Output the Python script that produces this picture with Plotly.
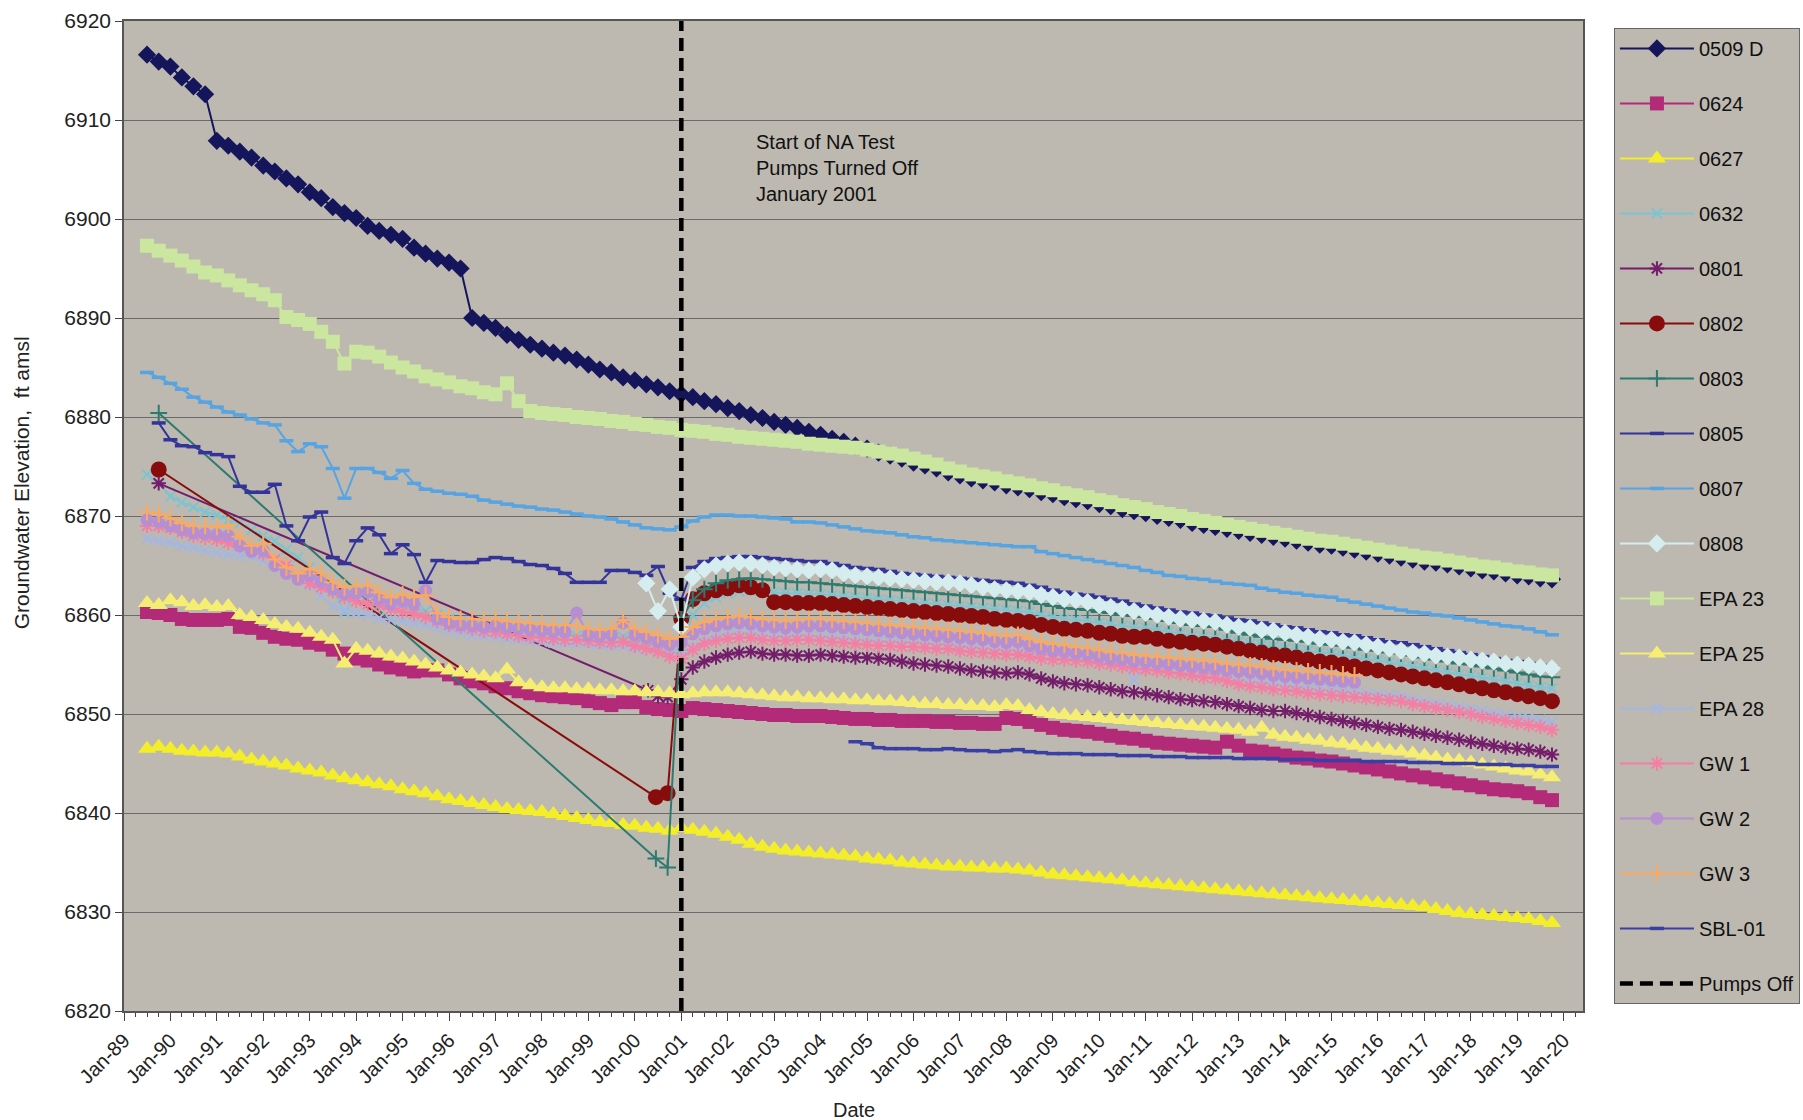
import pandas as pd
import plotly.graph_objects as go

FONT = "Liberation Sans, Arial, sans-serif"
PLOT_BG = "#bdb9b0"
GRID = "#6a6a6a"

Y_MIN, Y_MAX = 6820, 6920
X_RANGE = ["1989-01-01", "2020-06-01"]
PUMPS_OFF = "2001-01-01"

# ---------------------------------------------------------------- well data
# Quarterly water-level readings (ft amsl); each list starts at its *_START date.
W0509D_START = "1989-07-01"
W0509D = [6916.6, 6915.9,
          6915.4, 6914.3, 6913.4, 6912.6, 6907.9, 6907.4, 6906.8, 6906.2,
          6905.4, 6904.8, 6904.1, 6903.5, 6902.7, 6902.1, 6901.2, 6900.6,
          6900.1, 6899.3, 6898.8, 6898.4, 6898.0, 6897.1, 6896.5, 6896.0,
          6895.6, 6895.0, 6890.0, 6889.5, 6889.0, 6888.3, 6887.8, 6887.3,
          6886.9, 6886.5, 6886.2, 6885.8, 6885.3, 6884.8, 6884.5, 6884.0,
          6883.7, 6883.3, 6883.0, 6882.6, 6882.3, 6882.0, 6881.6, 6881.3,
          6880.9, 6880.6, 6880.2, 6879.9, 6879.5, 6879.2, 6878.9, 6878.5,
          6878.2, 6877.8, 6877.5, 6877.1, 6876.8, 6876.4, 6876.1, 6875.8,
          6875.4, 6875.1, 6874.8, 6874.4, 6874.1, 6873.8, 6873.6, 6873.4,
          6873.1, 6872.9, 6872.7, 6872.4, 6872.2, 6871.9, 6871.7, 6871.5,
          6871.2, 6871.0, 6870.7, 6870.5, 6870.3, 6870.0, 6869.8, 6869.6,
          6869.3, 6869.1, 6868.9, 6868.7, 6868.5, 6868.3, 6868.1, 6867.9,
          6867.7, 6867.5, 6867.3, 6867.1, 6867.0, 6866.8, 6866.6, 6866.4,
          6866.2, 6866.0, 6865.8, 6865.6, 6865.4, 6865.3, 6865.1, 6864.9,
          6864.7, 6864.5, 6864.4, 6864.2, 6864.0, 6863.9, 6863.7, 6863.6]

W0624_START = "1989-07-01"
W0624 = [6860.3, 6860.2,
         6860.0, 6859.6, 6859.5, 6859.5, 6859.5, 6859.6, 6858.8, 6858.7,
         6858.2, 6857.8, 6857.6, 6857.5, 6857.2, 6857.0, 6856.5, 6856.1,
         6855.6, 6855.4, 6855.0, 6854.7, 6854.5, 6854.3, 6854.4, 6854.4,
         6854.0, 6853.6, 6853.3, 6853.1, 6852.8, 6852.6, 6852.3, 6852.1,
         6851.9, 6851.8, 6851.7, 6851.6, 6851.3, 6851.1, 6850.9, 6851.2,
         6851.2, 6850.7, 6850.5, 6850.4, 6850.3, 6850.6, 6850.5, 6850.4,
         6850.3, 6850.2, 6850.1, 6850.0, 6849.9, 6849.9, 6849.8, 6849.8,
         6849.8, 6849.7, 6849.6, 6849.5, 6849.5, 6849.4, 6849.4, 6849.3,
         6849.3, 6849.3, 6849.2, 6849.2, 6849.1, 6849.1, 6849.0, 6849.0,
         6849.6, 6849.5, 6849.2, 6848.9, 6848.6, 6848.4, 6848.3, 6848.2,
         6848.0, 6847.8, 6847.6, 6847.5, 6847.3, 6847.1, 6847.0, 6846.9,
         6846.8, 6846.7, 6846.6, 6847.2, 6846.8, 6846.3, 6846.2, 6846.0,
         6845.8, 6845.6, 6845.5, 6845.3, 6845.2, 6845.0, 6844.8, 6844.6,
         6844.4, 6844.2, 6844.0, 6843.8, 6843.6, 6843.4, 6843.2, 6843.0,
         6842.8, 6842.6, 6842.4, 6842.3, 6842.2, 6842.0, 6841.6, 6841.3]

W0627_START = "1989-07-01"
W0627 = [6846.5, 6846.7,
         6846.5, 6846.3, 6846.2, 6846.1, 6846.1, 6846.0, 6845.7, 6845.4,
         6845.2, 6845.0, 6844.8, 6844.5, 6844.3, 6844.1, 6843.8, 6843.5,
         6843.3, 6843.1, 6842.9, 6842.7, 6842.4, 6842.2, 6842.0, 6841.7,
         6841.4, 6841.2, 6841.0, 6840.8, 6840.6, 6840.4, 6840.3, 6840.2,
         6840.1, 6839.9, 6839.7, 6839.5, 6839.3, 6839.1, 6839.0, 6838.8,
         6838.7, 6838.5, 6838.4, 6838.2, 6838.5, 6838.3, 6838.1, 6837.9,
         6837.6, 6837.3, 6836.9, 6836.6, 6836.4, 6836.2, 6836.1, 6836.0,
         6835.9, 6835.8, 6835.7, 6835.6, 6835.4, 6835.3, 6835.2, 6835.0,
         6834.9, 6834.8, 6834.7, 6834.6, 6834.6, 6834.5, 6834.5, 6834.4,
         6834.4, 6834.3, 6834.2, 6834.0, 6833.8, 6833.7, 6833.6, 6833.5,
         6833.4, 6833.3, 6833.2, 6833.0, 6832.9, 6832.8, 6832.7, 6832.6,
         6832.5, 6832.4, 6832.3, 6832.2, 6832.1, 6832.0, 6831.9, 6831.8,
         6831.7, 6831.6, 6831.5, 6831.4, 6831.3, 6831.2, 6831.1, 6831.0,
         6830.9, 6830.8, 6830.7, 6830.6, 6830.5, 6830.3, 6830.1, 6829.9,
         6829.8, 6829.7, 6829.6, 6829.5, 6829.4, 6829.3, 6829.1, 6828.9]

W0632_START = "1989-07-01"
W0632 = [6874.2, 6873.3,
         6872.0, 6871.4, 6870.9, 6870.4, 6870.1, 6869.6, 6869.3, 6868.6,
         6868.0, 6867.5, 6866.6, 6865.8, 6864.8, 6863.6, 6862.6, 6860.3,
         6862.4, 6862.3, 6861.6, 6861.2, 6861.0, 6860.7, 6860.4, 6860.0,
         6859.6, 6859.3, 6859.1, 6858.9, 6858.8, 6858.6, 6858.5, 6858.3,
         6858.2, 6858.1, 6858.0, 6857.9, 6857.8, 6857.7, 6857.7, 6857.8,
         6857.5, 6857.2, 6856.9, 6856.5, 6856.6, 6860.0, 6861.2, 6861.8,
         6862.2, 6862.4, 6862.5, 6862.4, 6862.3, 6862.2, 6862.2, 6862.1,
         6862.1, 6862.0, 6861.9, 6861.8, 6861.7, 6861.6, 6861.5, 6861.4,
         6861.3, 6861.2, 6861.1, 6861.0, 6860.9, 6860.8, 6860.7, 6860.6,
         6860.5, 6860.4, 6860.3, 6860.0, 6859.8, 6859.6, 6859.5, 6859.4,
         6859.2, 6859.1, 6858.9, 6858.8, 6858.7, 6858.5, 6858.3, 6858.1,
         6857.9, 6857.8, 6857.7, 6857.5, 6857.3, 6857.1, 6857.0, 6856.8,
         6856.6, 6856.5, 6856.4, 6856.2, 6856.1, 6855.9, 6855.7, 6855.5,
         6855.4, 6855.2, 6855.0, 6854.8, 6854.6, 6854.4, 6854.2, 6854.0,
         6853.9, 6853.7, 6853.5, 6853.3, 6853.1, 6852.9, 6852.7, 6852.6]

# 0801, 0802 and 0803 were read only sparsely before the pumps were shut off
W0801_EARLY_DATES = ["1989-10-01", "2000-04-15", "2000-07-01", "2000-09-15"]
W0801_EARLY = [6873.3, 6852.4, 6851.8, 6851.7]
W0801_START = "2001-01-01"
W0801 = [6853.5, 6854.7, 6855.3, 6855.7, 6856.0, 6856.2, 6856.3, 6856.1,
         6856.0, 6856.0, 6855.9, 6855.9, 6856.0, 6855.9, 6855.8, 6855.7,
         6855.7, 6855.6, 6855.5, 6855.3, 6855.1, 6855.0, 6854.9, 6854.8,
         6854.6, 6854.4, 6854.3, 6854.2, 6854.1, 6854.2, 6854.0, 6853.6,
         6853.3, 6853.1, 6853.0, 6852.9, 6852.7, 6852.5, 6852.3, 6852.2,
         6852.1, 6851.9, 6851.7, 6851.5, 6851.4, 6851.3, 6851.2, 6851.0,
         6850.8, 6850.6, 6850.4, 6850.3, 6850.3, 6850.1, 6849.9, 6849.7,
         6849.5, 6849.3, 6849.1, 6848.9, 6848.7, 6848.5, 6848.4, 6848.2,
         6848.0, 6847.8, 6847.6, 6847.4, 6847.2, 6847.0, 6846.8, 6846.6,
         6846.5, 6846.4, 6846.2, 6845.9]

W0802_EARLY_DATES = ["1989-10-01", "2000-06-15", "2000-09-15"]
W0802_EARLY = [6874.7, 6841.6, 6842.0]
W0802_START = "2001-01-01"
W0802 = [6859.6, 6861.6, 6862.2, 6862.5, 6862.7, 6863.0, 6862.8, 6862.5,
         6861.3, 6861.3, 6861.2, 6861.2, 6861.2, 6861.1, 6861.0, 6860.9,
         6860.8, 6860.7, 6860.6, 6860.5, 6860.4, 6860.3, 6860.2, 6860.1,
         6860.0, 6859.9, 6859.8, 6859.6, 6859.5, 6859.4, 6859.3, 6859.0,
         6858.8, 6858.6, 6858.5, 6858.4, 6858.2, 6858.1, 6857.9, 6857.8,
         6857.8, 6857.6, 6857.4, 6857.3, 6857.2, 6857.1, 6857.0, 6856.8,
         6856.6, 6856.4, 6856.2, 6856.0, 6855.9, 6855.7, 6855.5, 6855.3,
         6855.2, 6855.0, 6854.8, 6854.6, 6854.4, 6854.2, 6854.0, 6853.8,
         6853.6, 6853.4, 6853.2, 6853.0, 6852.8, 6852.6, 6852.4, 6852.2,
         6852.0, 6851.8, 6851.6, 6851.3]

W0803_EARLY_DATES = ["1989-10-01", "2000-06-15", "2000-09-15"]
W0803_EARLY = [6880.4, 6835.4, 6834.5]
W0803_START = "2001-01-01"
W0803 = [6859.8, 6861.5, 6862.6, 6863.2, 6863.5, 6863.6, 6863.7, 6863.6,
         6863.5, 6863.4, 6863.3, 6863.3, 6863.2, 6863.1, 6863.0, 6862.9,
         6862.8, 6862.7, 6862.6, 6862.5, 6862.4, 6862.3, 6862.2, 6862.1,
         6862.0, 6861.9, 6861.8, 6861.7, 6861.6, 6861.5, 6861.4, 6861.1,
         6860.9, 6860.7, 6860.6, 6860.5, 6860.3, 6860.2, 6860.0, 6859.9,
         6859.8, 6859.6, 6859.4, 6859.2, 6859.0, 6858.9, 6858.8, 6858.5,
         6858.2, 6858.0, 6857.8, 6857.6, 6857.5, 6857.4, 6857.3, 6857.1,
         6857.0, 6856.9, 6856.7, 6856.5, 6856.4, 6856.2, 6856.1, 6855.9,
         6855.7, 6855.5, 6855.3, 6855.1, 6855.0, 6854.8, 6854.6, 6854.4,
         6854.2, 6854.0, 6853.8, 6853.7]

W0805_START = "1989-10-01"
W0805 = [6879.4,
         6877.7, 6877.1, 6877.0, 6876.4, 6876.2, 6876.0, 6873.0, 6872.4,
         6872.4, 6873.2, 6869.0, 6867.5, 6869.9, 6870.4, 6865.8, 6865.2,
         6867.5, 6868.8, 6868.1, 6866.2, 6867.1, 6866.1, 6863.3, 6865.5,
         6865.4, 6865.3, 6865.3, 6865.6, 6865.8, 6865.7, 6865.4, 6865.1,
         6865.0, 6864.7, 6864.2, 6863.3, 6863.3, 6863.3, 6864.5, 6864.5,
         6864.3, 6864.0, 6864.9, 6862.2, 6861.6, 6864.8, 6865.4, 6865.7,
         6865.8, 6865.9, 6865.9, 6865.8, 6865.7, 6865.6, 6865.5, 6865.4,
         6865.4, 6865.2, 6865.0, 6864.8, 6864.7, 6864.6, 6864.4, 6864.2,
         6864.1, 6864.0, 6863.9, 6863.8, 6863.7, 6863.6, 6863.5, 6863.4,
         6863.3, 6863.2, 6863.0, 6862.8, 6862.5, 6862.3, 6862.1, 6862.0,
         6861.8, 6861.6, 6861.4, 6861.1, 6860.9, 6860.7, 6860.5, 6860.3,
         6860.2, 6860.0, 6859.9, 6859.7, 6859.5, 6859.4, 6859.2, 6859.0,
         6858.8, 6858.7, 6858.5, 6858.3, 6858.2, 6858.0, 6857.9, 6857.7,
         6857.5, 6857.3, 6857.2, 6857.0, 6856.8, 6856.6, 6856.4, 6856.2,
         6856.0, 6855.8, 6855.6, 6855.4, 6855.3, 6855.1, 6854.9, 6854.7]

W0807_START = "1989-07-01"
W0807 = [6884.5, 6884.0,
         6883.4, 6882.8, 6882.0, 6881.5, 6881.0, 6880.5, 6880.2, 6879.8,
         6879.4, 6879.2, 6877.6, 6876.5, 6877.3, 6877.0, 6874.8, 6871.8,
         6874.8, 6874.8, 6874.4, 6873.8, 6874.6, 6873.3, 6872.7, 6872.5,
         6872.3, 6872.2, 6872.0, 6871.6, 6871.4, 6871.2, 6871.0, 6870.9,
         6870.7, 6870.6, 6870.4, 6870.2, 6870.0, 6869.9, 6869.7, 6869.4,
         6869.1, 6868.8, 6868.7, 6868.6, 6868.9, 6869.5, 6869.9, 6870.1,
         6870.1, 6870.0, 6870.0, 6869.9, 6869.8, 6869.7, 6869.4, 6869.4,
         6869.3, 6869.1, 6868.9, 6868.7, 6868.5, 6868.4, 6868.3, 6868.1,
         6867.9, 6867.8, 6867.6, 6867.5, 6867.4, 6867.3, 6867.2, 6867.1,
         6867.0, 6866.9, 6866.9, 6866.4, 6866.2, 6866.0, 6865.8, 6865.6,
         6865.4, 6865.2, 6865.0, 6864.8, 6864.5, 6864.3, 6864.0, 6863.9,
         6863.7, 6863.6, 6863.4, 6863.2, 6863.1, 6863.0, 6862.7, 6862.5,
         6862.3, 6862.2, 6862.0, 6861.9, 6861.8, 6861.5, 6861.3, 6861.1,
         6860.9, 6860.7, 6860.5, 6860.3, 6860.2, 6860.0, 6859.9, 6859.7,
         6859.5, 6859.3, 6859.1, 6858.9, 6858.8, 6858.6, 6858.3, 6858.0]

W0808_START = "2000-04-01"
W0808 = [6863.2, 6860.4, 6862.6,
         6858.8, 6863.8, 6864.6, 6865.0, 6865.2, 6865.3, 6865.2, 6865.0,
         6864.8, 6864.7, 6864.6, 6864.5, 6864.6, 6864.5, 6864.2, 6864.0,
         6863.9, 6863.8, 6863.7, 6863.6, 6863.5, 6863.4, 6863.3, 6863.3,
         6863.2, 6863.0, 6862.8, 6862.6, 6862.5, 6862.4, 6862.3, 6862.0,
         6861.8, 6861.6, 6861.5, 6861.3, 6861.0, 6860.8, 6860.6, 6860.4,
         6860.2, 6860.0, 6859.8, 6859.6, 6859.5, 6859.4, 6859.3, 6859.0,
         6858.8, 6858.7, 6858.5, 6858.4, 6858.2, 6858.0, 6857.8, 6857.6,
         6857.5, 6857.3, 6857.2, 6857.0, 6856.8, 6856.6, 6856.4, 6856.2,
         6856.1, 6855.9, 6855.8, 6855.7, 6855.5, 6855.4, 6855.3, 6855.1,
         6855.0, 6854.9, 6854.7, 6854.6]

EPA23_START = "1989-07-01"
EPA23 = [6897.3, 6896.8,
         6896.3, 6895.8, 6895.2, 6894.6, 6894.3, 6893.8, 6893.3, 6892.8,
         6892.4, 6891.8, 6890.1, 6889.8, 6889.4, 6888.6, 6887.6, 6885.4,
         6886.6, 6886.5, 6886.1, 6885.5, 6885.0, 6884.6, 6884.1, 6883.8,
         6883.5, 6883.1, 6882.9, 6882.5, 6882.3, 6883.4, 6881.6, 6880.6,
         6880.4, 6880.3, 6880.2, 6880.0, 6879.9, 6879.8, 6879.6, 6879.5,
         6879.3, 6879.2, 6879.0, 6878.9, 6878.7, 6878.6, 6878.5, 6878.3,
         6878.2, 6878.0, 6877.9, 6877.8, 6877.7, 6877.6, 6877.5, 6877.3,
         6877.2, 6877.1, 6877.0, 6876.9, 6876.7, 6876.5, 6876.3, 6876.1,
         6875.8, 6875.5, 6875.2, 6874.8, 6874.5, 6874.2, 6874.0, 6873.8,
         6873.5, 6873.3, 6873.1, 6872.8, 6872.6, 6872.3, 6872.1, 6871.9,
         6871.6, 6871.4, 6871.1, 6870.9, 6870.7, 6870.4, 6870.2, 6870.0,
         6869.7, 6869.5, 6869.3, 6869.1, 6868.9, 6868.7, 6868.5, 6868.3,
         6868.1, 6867.9, 6867.7, 6867.5, 6867.4, 6867.2, 6867.0, 6866.8,
         6866.6, 6866.4, 6866.2, 6866.0, 6865.8, 6865.7, 6865.5, 6865.3,
         6865.1, 6864.9, 6864.8, 6864.6, 6864.4, 6864.3, 6864.1, 6864.0]

EPA25_START = "1989-07-01"
EPA25 = [6861.2, 6861.0,
         6861.5, 6861.3, 6860.9, 6861.0, 6860.8, 6860.9, 6860.0, 6859.8,
         6859.5, 6859.1, 6858.8, 6858.6, 6858.2, 6857.8, 6857.5, 6855.1,
         6856.6, 6856.4, 6856.1, 6855.8, 6855.6, 6855.3, 6855.0, 6854.7,
         6854.4, 6854.2, 6854.0, 6853.8, 6853.6, 6854.5, 6853.2, 6852.9,
         6852.7, 6852.6, 6852.6, 6852.5, 6852.5, 6852.4, 6852.4, 6852.3,
         6852.3, 6852.2, 6852.2, 6852.1, 6852.0, 6852.1, 6852.2, 6852.2,
         6852.2, 6852.1, 6852.0, 6851.9, 6851.8, 6851.7, 6851.7, 6851.6,
         6851.6, 6851.5, 6851.5, 6851.4, 6851.4, 6851.3, 6851.3, 6851.2,
         6851.1, 6851.0, 6851.0, 6850.9, 6850.9, 6850.8, 6850.8, 6850.7,
         6850.9, 6850.8, 6850.4, 6850.2, 6850.0, 6849.9, 6849.8, 6849.7,
         6849.6, 6849.5, 6849.4, 6849.3, 6849.2, 6849.1, 6849.0, 6848.9,
         6848.8, 6848.7, 6848.6, 6848.5, 6848.4, 6848.2, 6848.6, 6847.9,
         6847.7, 6847.6, 6847.4, 6847.3, 6847.1, 6847.0, 6846.8, 6846.6,
         6846.5, 6846.3, 6846.2, 6846.0, 6845.8, 6845.6, 6845.4, 6845.3,
         6845.1, 6844.9, 6844.7, 6844.5, 6844.3, 6844.2, 6843.9, 6843.6]

EPA28_START = "1989-07-01"
EPA28 = [6867.7, 6867.5,
         6867.3, 6867.0, 6866.8, 6866.5, 6866.3, 6866.1, 6866.0, 6865.9,
         6865.5, 6864.9, 6864.3, 6863.7, 6863.0, 6862.0, 6860.9, 6860.5,
         6860.2, 6860.0, 6859.7, 6859.5, 6859.4, 6859.2, 6859.0, 6858.7,
         6858.4, 6858.2, 6858.0, 6857.9, 6857.8, 6857.6, 6857.5, 6857.4,
         6857.3, 6857.2, 6857.2, 6857.1, 6857.1, 6857.0, 6856.9, 6856.9,
         6856.7, 6856.5, 6856.3, 6856.1, 6856.0, 6856.8, 6857.4, 6857.8,
         6858.0, 6858.1, 6858.1, 6857.9, 6857.8, 6857.8, 6857.9, 6857.9,
         6857.8, 6857.7, 6857.6, 6857.5, 6857.4, 6857.3, 6857.3, 6857.2,
         6857.2, 6857.1, 6857.0, 6857.0, 6856.8, 6856.7, 6856.6, 6856.5,
         6856.4, 6856.4, 6856.2, 6856.0, 6855.9, 6855.9, 6855.8, 6855.7,
         6855.5, 6855.4, 6855.2, 6853.4, 6854.9, 6854.8, 6854.6, 6854.5,
         6854.3, 6854.1, 6854.0, 6853.8, 6853.5, 6853.3, 6853.2, 6853.0,
         6852.9, 6852.8, 6852.6, 6852.5, 6852.4, 6852.3, 6852.2, 6852.1,
         6852.0, 6851.9, 6851.8, 6851.5, 6851.3, 6851.1, 6850.9, 6850.7,
         6850.5, 6850.3, 6850.1, 6849.9, 6849.7, 6849.6, 6849.4, 6849.2]

GW1_START = "1989-07-01"
GW1 = [6869.0, 6869.0,
       6868.8, 6868.4, 6868.0, 6867.8, 6867.6, 6867.3, 6867.0, 6866.6,
       6866.2, 6865.6, 6865.0, 6864.0, 6863.2, 6862.8, 6862.4, 6861.8,
       6861.4, 6861.1, 6861.0, 6860.6, 6860.3, 6860.1, 6859.8, 6859.4,
       6859.0, 6858.8, 6858.6, 6858.4, 6858.3, 6858.1, 6857.9, 6857.8,
       6857.7, 6857.6, 6857.5, 6857.5, 6857.4, 6857.3, 6857.2, 6857.3,
       6856.9, 6856.6, 6856.3, 6855.8, 6855.6, 6856.5, 6857.1, 6857.4,
       6857.6, 6857.7, 6857.7, 6857.5, 6857.4, 6857.4, 6857.5, 6857.5,
       6857.4, 6857.3, 6857.2, 6857.1, 6857.0, 6856.9, 6856.9, 6856.8,
       6856.8, 6856.7, 6856.6, 6856.6, 6856.4, 6856.3, 6856.2, 6856.1,
       6856.0, 6856.0, 6855.8, 6855.6, 6855.5, 6855.5, 6855.4, 6855.3,
       6855.1, 6855.0, 6854.8, 6854.6, 6854.5, 6854.4, 6854.2, 6854.1,
       6853.9, 6853.7, 6853.6, 6853.3, 6853.0, 6852.8, 6852.7, 6852.5,
       6852.4, 6852.3, 6852.1, 6852.0, 6851.9, 6851.8, 6851.7, 6851.6,
       6851.5, 6851.4, 6851.3, 6851.0, 6850.8, 6850.6, 6850.4, 6850.2,
       6850.0, 6849.7, 6849.5, 6849.3, 6849.1, 6848.9, 6848.7, 6848.4]

GW2_START = "1989-07-01"
GW2 = [6869.6, 6869.4,
       6869.0, 6868.6, 6868.3, 6868.2, 6868.1, 6868.0, 6867.0, 6866.4,
       6866.5, 6865.0, 6864.2, 6863.6, 6864.0, 6863.4, 6862.6, 6862.1,
       6862.2, 6862.3, 6861.6, 6861.1, 6861.4, 6861.1, 6862.5, 6859.6,
       6859.2, 6859.0, 6858.9, 6858.8, 6858.9, 6858.7, 6858.6, 6858.5,
       6858.4, 6858.3, 6858.3, 6860.2, 6858.0, 6857.9, 6858.0, 6859.2,
       6858.0, 6857.7, 6857.3, 6857.0, 6857.2, 6858.1, 6858.6, 6858.9,
       6859.1, 6859.2, 6859.1, 6858.9, 6858.8, 6858.7, 6858.8, 6858.9,
       6858.9, 6858.8, 6858.7, 6858.6, 6858.5, 6858.4, 6858.3, 6858.2,
       6858.1, 6858.0, 6857.9, 6857.8, 6857.7, 6857.6, 6857.5, 6857.3,
       6857.2, 6857.3, 6856.9, 6856.6, 6856.4, 6856.3, 6856.1, 6856.0,
       6855.8, 6855.6, 6855.5, 6855.3, 6855.2, 6855.1, 6855.0, 6854.9,
       6854.8, 6854.7, 6854.6, 6854.4, 6854.3, 6854.2, 6854.1, 6853.9,
       6853.8, 6853.7, 6853.6, 6853.5, 6853.4, 6853.3, 6853.2]

GW3_START = "1989-07-01"
GW3 = [6870.4, 6870.2,
       6869.8, 6869.3, 6869.0, 6869.0, 6868.9, 6869.1, 6867.9, 6867.0,
       6867.2, 6865.6, 6864.8, 6864.2, 6864.7, 6864.2, 6863.3, 6862.8,
       6862.9, 6863.0, 6862.3, 6861.8, 6862.1, 6861.8, 6862.0, 6860.2,
       6859.8, 6859.6, 6859.6, 6859.5, 6859.6, 6859.4, 6859.3, 6859.2,
       6859.1, 6859.0, 6859.0, 6858.9, 6858.6, 6858.5, 6858.6, 6859.5,
       6858.6, 6858.3, 6858.0, 6857.6, 6857.8, 6858.8, 6859.3, 6859.6,
       6859.8, 6859.9, 6859.8, 6859.6, 6859.5, 6859.4, 6859.5, 6859.6,
       6859.6, 6859.5, 6859.4, 6859.3, 6859.2, 6859.1, 6859.0, 6858.9,
       6858.8, 6858.7, 6858.6, 6858.5, 6858.4, 6858.3, 6858.2, 6858.0,
       6857.9, 6858.0, 6857.6, 6857.3, 6857.1, 6857.0, 6856.8, 6856.7,
       6856.5, 6856.3, 6856.2, 6856.0, 6855.9, 6855.8, 6855.7, 6855.6,
       6855.5, 6855.4, 6855.3, 6855.1, 6855.0, 6854.9, 6854.8, 6854.6,
       6854.5, 6854.4, 6854.3, 6854.2, 6854.1, 6854.0, 6853.9]

SBL01_START = "2004-10-01"
SBL01 = [6847.2,
         6847.0, 6846.6, 6846.5, 6846.5, 6846.5, 6846.4, 6846.4, 6846.5,
         6846.4, 6846.3, 6846.3, 6846.2, 6846.3, 6846.4, 6846.2, 6846.1,
         6846.0, 6846.0, 6846.0, 6845.9, 6845.9, 6845.9, 6845.8, 6845.8,
         6845.8, 6845.7, 6845.7, 6845.7, 6845.6, 6845.6, 6845.6, 6845.6,
         6845.5, 6845.5, 6845.5, 6845.5, 6845.4, 6845.4, 6845.4, 6845.3,
         6845.3, 6845.3, 6845.3, 6845.2, 6845.2, 6845.2, 6845.2, 6845.1,
         6845.1, 6845.1, 6845.0, 6845.0, 6845.0, 6844.9, 6844.9, 6844.9,
         6844.8, 6844.8, 6844.7, 6844.7]


def quarterly(start, values):
    """Quarter-start sample dates for a list of readings beginning at `start`."""
    return list(pd.date_range(start=start, periods=len(values), freq="QS"))


def with_early(early_dates, early_vals, start, values):
    return (list(pd.to_datetime(early_dates)) + quarterly(start, values),
            list(early_vals) + list(values))


# name, (dates, values), colour, marker symbol, marker size, stroke width of line-type markers
SERIES = [
    ("0509 D", (quarterly(W0509D_START, W0509D), W0509D), "#15155c", "diamond", 14, 0),
    ("0624", (quarterly(W0624_START, W0624), W0624), "#b32a78", "square", 14, 0),
    ("0627", (quarterly(W0627_START, W0627), W0627), "#f4ee2a", "triangle-up", 16, 0),
    ("0632", (quarterly(W0632_START, W0632), W0632), "#7cc4d0", "x-thin", 10, 2),
    ("0801", with_early(W0801_EARLY_DATES, W0801_EARLY, W0801_START, W0801), "#741d6b", "asterisk", 12, 2),
    ("0802", with_early(W0802_EARLY_DATES, W0802_EARLY, W0802_START, W0802), "#890c0c", "circle", 16, 0),
    ("0803", with_early(W0803_EARLY_DATES, W0803_EARLY, W0803_START, W0803), "#2d7b70", "cross-thin", 12, 2),
    ("0805", (quarterly(W0805_START, W0805), W0805), "#33339a", "line-ew", 10, 3.5),
    ("0807", (quarterly(W0807_START, W0807), W0807), "#58a4e2", "line-ew", 10, 3.5),
    ("0808", (quarterly(W0808_START, W0808), W0808), "#d6edef", "diamond", 14, 0),
    ("EPA 23", (quarterly(EPA23_START, EPA23), EPA23), "#cbe69f", "square", 14, 0),
    ("EPA 25", (quarterly(EPA25_START, EPA25), EPA25), "#f6ee72", "triangle-up", 16, 0),
    ("EPA 28", (quarterly(EPA28_START, EPA28), EPA28), "#a2b7e3", "x-thin", 10, 2),
    ("GW 1", (quarterly(GW1_START, GW1), GW1), "#f57fa2", "asterisk", 12, 2),
    ("GW 2", (quarterly(GW2_START, GW2), GW2), "#b68fd2", "circle", 13, 0),
    ("GW 3", (quarterly(GW3_START, GW3), GW3), "#f9aa60", "cross-thin", 12, 2),
    ("SBL-01", (quarterly(SBL01_START, SBL01), SBL01), "#3a3fa6", "line-ew", 10, 3.5),
]

fig = go.Figure()

for name, (dates, vals), color, symbol, size, stroke in SERIES:
    if stroke:
        marker = dict(symbol=symbol, size=size, color=color,
                      line=dict(color=color, width=stroke))
    else:
        marker = dict(symbol=symbol, size=size, color=color, line=dict(width=0))
    fig.add_trace(go.Scatter(
        x=dates, y=vals, name=name, legendgroup=name,
        mode="lines+markers", line=dict(color=color, width=2),
        marker=marker,
    ))

# vertical marker for the pump shut-off date
fig.add_trace(go.Scatter(
    x=[PUMPS_OFF, PUMPS_OFF], y=[Y_MIN, Y_MAX], name="Pumps Off",
    legendgroup="Pumps Off", mode="lines",
    line=dict(color="black", width=4.5, dash="13px,7px"),
))

fig.add_annotation(
    x=0.4318, y=0.8905, xref="paper", yref="paper",
    xanchor="left", yanchor="top", align="left", showarrow=False,
    text="Start of NA Test<br>Pumps Turned Off<br>January 2001",
    font=dict(family=FONT, size=20, color="#111"),
)
fig.add_annotation(
    x=0.5, y=0, xref="paper", yref="paper", yshift=-99,
    xanchor="center", yanchor="middle", showarrow=False,
    text="Date", font=dict(family=FONT, size=20, color="#222"),
)
fig.add_annotation(
    x=0, y=0.533, xref="paper", yref="paper", xshift=-103,
    xanchor="center", yanchor="middle", showarrow=False, textangle=-90,
    text="Groundwater Elevation,  ft amsl", font=dict(family=FONT, size=21, color="#222"),
)

fig.update_layout(
    width=1803, height=1120,
    margin=dict(l=124, r=220, t=21, b=109, autoexpand=False),
    paper_bgcolor="white", plot_bgcolor=PLOT_BG,
    font=dict(family=FONT, size=18, color="#222"),
    hovermode=False,
    showlegend=True,
    legend=dict(
        x=1.0212, y=0.993, xanchor="left", yanchor="top",
        bgcolor=PLOT_BG, bordercolor="#666", borderwidth=1,
        font=dict(family=FONT, size=20, color="#111"),
        itemwidth=74, tracegroupgap=26, traceorder="grouped",
    ),
    xaxis=dict(
        type="date", range=X_RANGE,
        tick0="1989-01-01", dtick="M12", tickformat="%b-%y", tickangle=-45,
        ticks="outside", ticklen=8, tickcolor="#444", tickwidth=1,
        minor=dict(dtick="M3", tick0="1989-01-01", ticks="outside", ticklen=4,
                   tickcolor="#444", showgrid=False),
        showgrid=False, zeroline=False,
        showline=True, linecolor="#555", linewidth=1.5, mirror=True,
        tickfont=dict(family=FONT, size=20, color="#222"),
    ),
    yaxis=dict(
        range=[Y_MIN, Y_MAX], dtick=10, tick0=Y_MIN,
        ticks="outside", ticklen=7, tickcolor="#444",
        showgrid=True, gridcolor=GRID, gridwidth=1.3, zeroline=False,
        showline=True, linecolor="#555", linewidth=1.5, mirror=True,
        tickfont=dict(family=FONT, size=21, color="#222"),
    ),
)

fig.write_html("out.html")
